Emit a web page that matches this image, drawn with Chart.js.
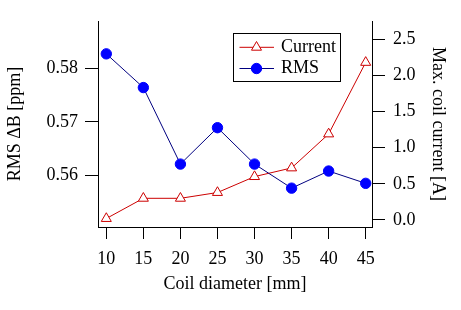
<!DOCTYPE html>
<html>
<head>
<meta charset="utf-8">
<script src="https://cdn.jsdelivr.net/npm/chart.js@4/dist/chart.umd.min.js"></script>
<style>
  html, body { margin: 0; padding: 0; background: #fff; }
  #wrap { width: 461px; height: 310px; }
</style>
</head>
<body>
<div id="wrap"><canvas id="c" width="461" height="310"></canvas></div>
<script>
// ---- data ----
const diameters = [10, 15, 20, 25, 30, 35, 40, 45];
const rmsValues = [0.5827, 0.5764, 0.5621, 0.5689, 0.5621, 0.5576, 0.5608, 0.5585];
const currentValues = [0.02, 0.30, 0.30, 0.38, 0.60, 0.72, 1.19, 2.18];
const xTicks = [10, 15, 20, 25, 30, 35, 40, 45];
const leftTicks = [0.56, 0.57, 0.58];
const rightTicks = [0.0, 0.5, 1.0, 1.5, 2.0, 2.5];
const xTitle = 'Coil diameter [mm]';
const leftTitle = 'RMS \u0394B [ppm]';
const rightTitle = 'Max. coil current [A]';
const seriesNames = ['Current', 'RMS'];

const FONT = 'Liberation Serif';
const fontTick = { family: FONT, size: 18 };

const toPts = (xs, ys) => xs.map((x, i) => ({ x: x, y: ys[i] }));

const legendPlugin = {
  id: 'insideLegend',
  afterDraw(chart) {
    const ctx = chart.ctx;
    const ca = chart.chartArea;
    const bx = ca.left + 135.5, by = 33.5, bw = 107, bh = 48;
    ctx.save();
    ctx.strokeStyle = '#000';
    ctx.lineWidth = 1;
    ctx.strokeRect(bx, by, bw, bh);
    const rows = [47.3, 68.5];
    chart.data.datasets.forEach((ds, i) => {
      const y = rows[i];
      ctx.strokeStyle = ds.borderColor;
      ctx.lineWidth = 1;
      ctx.beginPath();
      ctx.moveTo(bx + 6, y);
      ctx.lineTo(bx + 40.5, y);
      ctx.stroke();
      ctx.fillStyle = ds.pointBackgroundColor;
      ctx.strokeStyle = ds.pointBorderColor;
      ctx.lineWidth = 1;
      Chart.helpers.drawPoint(ctx, {
        pointStyle: ds.pointStyle, radius: ds.pointRadius, rotation: 0, borderWidth: 1
      }, bx + 23, y);
      ctx.fillStyle = '#000';
      ctx.font = '18px "' + FONT + '"';
      ctx.textBaseline = 'middle';
      ctx.textAlign = 'left';
      ctx.fillText(ds.label, bx + 47.5, y);
    });
    ctx.restore();
  }
};

new Chart(document.getElementById('c'), {
  type: 'line',
  data: {
    datasets: [
      {
        label: seriesNames[0],
        data: toPts(diameters, currentValues),
        yAxisID: 'yR',
        borderColor: '#cc0000',
        borderWidth: 1,
        pointStyle: 'triangle',
        pointRadius: 5.8,
        pointBackgroundColor: '#ffffff',
        pointBorderColor: '#cc0000',
        pointBorderWidth: 1,
        fill: false,
        order: 1
      },
      {
        label: seriesNames[1],
        data: toPts(diameters, rmsValues),
        yAxisID: 'yL',
        borderColor: '#000080',
        borderWidth: 1,
        pointStyle: 'circle',
        pointRadius: 5.2,
        pointBackgroundColor: '#0000ff',
        pointBorderColor: '#0000ff',
        pointBorderWidth: 1,
        fill: false,
        order: 0
      }
    ]
  },
  options: {
    responsive: false,
    animation: false,
    events: [],
    layout: { padding: { top: 21, left: 0, right: 0, bottom: 0 } },
    plugins: { legend: { display: false }, tooltip: { enabled: false } },
    scales: {
      x: {
        type: 'linear',
        position: 'bottom',
        min: 8.88, max: 45.85,
        afterBuildTicks: (s) => { s.ticks = xTicks.map(v => ({ value: v })); },
        afterFit: (s) => { s.height = 83; },
        border: { display: true, color: '#000', width: 1 },
        grid: { display: true, drawOnChartArea: false, drawTicks: true, tickLength: 12, color: '#000', tickColor: '#000' },
        ticks: { color: '#000', font: fontTick, padding: 9, maxRotation: 0, autoSkip: false },
        title: { display: true, text: xTitle, color: '#000', font: fontTick, padding: { top: 0, bottom: 15 } }
      },
      yL: {
        type: 'linear',
        position: 'left',
        min: 0.55034, max: 0.58884,
        afterBuildTicks: (s) => { s.ticks = leftTicks.map(v => ({ value: v })); },
        afterFit: (s) => { s.width = 98; },
        border: { display: true, color: '#000', width: 1 },
        grid: { display: true, drawOnChartArea: false, drawTicks: true, tickLength: 13, color: '#000', tickColor: '#000' },
        ticks: { color: '#000', font: fontTick, padding: 7, callback: (v) => v.toFixed(2) },
        title: { display: true, text: leftTitle, color: '#000', font: fontTick, padding: { top: 4, bottom: 0 } }
      },
      yR: {
        type: 'linear',
        position: 'right',
        min: -0.097, max: 2.753,
        afterBuildTicks: (s) => { s.ticks = rightTicks.map(v => ({ value: v })); },
        afterFit: (s) => { s.width = 89; },
        border: { display: true, color: '#000', width: 1 },
        grid: { display: true, drawOnChartArea: false, drawTicks: true, tickLength: 13, color: '#000', tickColor: '#000' },
        ticks: { color: '#000', font: fontTick, padding: 8, callback: (v) => v.toFixed(1) },
        title: { display: true, text: rightTitle, color: '#000', font: fontTick, padding: { top: 12, bottom: 0 } }
      }
    }
  },
  plugins: [legendPlugin]
});
</script>
</body>
</html>
